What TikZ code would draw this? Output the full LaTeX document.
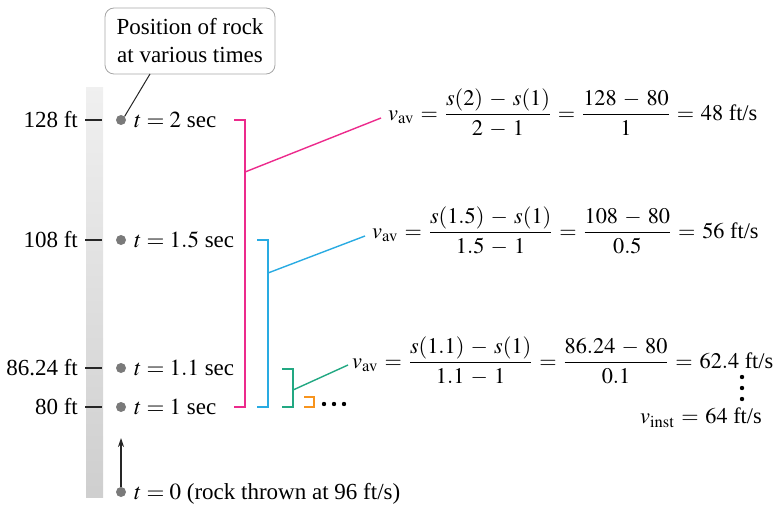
\documentclass[tikz,border=0pt]{standalone}
\usepackage{mathptmx}
\usepackage{fontspec}
\setmainfont{Liberation Serif}
\usetikzlibrary{arrows.meta}
\definecolor{cmag}{HTML}{EC2A8C}
\definecolor{cblue}{HTML}{29ABE2}
\definecolor{cgreen}{HTML}{22A882}
\definecolor{corange}{HTML}{F7941D}
\definecolor{cdot}{HTML}{7A7A7A}
\begin{document}
\begin{tikzpicture}[x=1pt,y=-1pt,
  every node/.style={font=\fontsize{23}{27}\selectfont, inner sep=0pt},
  lbl/.style={anchor=east},
  tlbl/.style={anchor=west},
  tick/.style={line width=1.2pt, black!85},
  rockdot/.style={circle, fill=cdot, minimum size=10pt, inner sep=0pt},
  brk/.style={line width=1.4pt},
  eqn/.style={anchor=west, font=\fontsize{22.3}{26}\selectfont, execute at begin node={\medmuskip=5mu plus 1mu\thickmuskip=5.5mu plus 1mu}}]
\useasboundingbox (0,0) rectangle (781,505);
% bar
\shade[top color=gray!12, bottom color=gray!38] (86,88) rectangle (103,497);
% callout
\node[draw=gray!70, line width=0.8pt, rounded corners=9pt, minimum width=170pt, minimum height=66pt, align=center, font=\fontsize{23}{28}\selectfont] (call) at (190,41) {Position of rock\\at various times};
% dots
\node[rockdot] (d2) at (121,120) {};
\node[rockdot] (d15) at (121,240) {};
\node[rockdot] (d11) at (121,368) {};
\node[rockdot] (d1) at (121,407) {};
\node[rockdot] (d0) at (121,492) {};
% height labels and ticks
\node[lbl] (h128) at (78,120) {128 ft};
\node[lbl] (h108) at (78,240) {108 ft};
\node[lbl] (h86) at (78,368) {86.24 ft};
\node[lbl] (h80) at (78,407) {80 ft};
\foreach \yy in {120,240,368,407} \draw[tick] (85,\yy) -- (102,\yy);
% time labels
\node[tlbl] (t2) at (134,120) {$t = 2$ sec};
\node[tlbl] (t15) at (134,240) {$t = 1.5$ sec};
\node[tlbl] (t11) at (134,368) {$t = 1.1$ sec};
\node[tlbl] (t1) at (134,407) {$t = 1$ sec};
\node[tlbl] (t0) at (134,494) {$t = 0$ (rock thrown at 96 ft/s)};
% pointer from callout
\coordinate (cp) at (150,74);
\draw[line width=1pt, black!85] (cp) -- (d2.north east);
% arrow
\draw[line width=1.1pt, black!85, -{Stealth[length=9pt,width=6pt]}] (d0) -- (121,438);
% equations
\node[eqn] (e1) at (388,113) {$\displaystyle v_{\mathrm{av}} = \frac{s(2) - s(1)}{2 - 1} = \frac{128 - 80}{1} = 48\mbox{ ft/s}$};
\node[eqn] (e2) at (372,231) {$\displaystyle v_{\mathrm{av}} = \frac{s(1.5) - s(1)}{1.5 - 1} = \frac{108 - 80}{0.5} = 56\mbox{ ft/s}$};
\node[eqn] (e3) at (352,361) {$\displaystyle v_{\mathrm{av}} = \frac{s(1.1) - s(1)}{1.1 - 1} = \frac{86.24 - 80}{0.1} = 62.4\mbox{ ft/s}$};
\node[eqn, anchor=east] (e4) at (762,418) {$v_{\mathrm{inst}} = 64\mbox{ ft/s}$};
\foreach \yy in {377,388,399} \fill (742,\yy) circle (2.2pt);
% brackets
\draw[brk, cmag] (234,120) -- (245,120) -- (245,407) -- (234,407);
\coordinate (mj) at (245,172);
\draw[brk, cmag] (mj) -- ([xshift=-7pt,yshift=-5pt]e1.west);
\draw[brk, cblue] (257,240) -- (268,240) -- (268,407) -- (257,407);
\coordinate (bj) at (268,273);
\draw[brk, cblue] (bj) -- ([xshift=-7pt,yshift=-5pt]e2.west);
\draw[brk, cgreen] (282,369) -- (293,369) -- (293,407) -- (282,407);
\coordinate (gj) at (293,390);
\draw[brk, cgreen] (gj) -- ([xshift=-4pt,yshift=-4pt]e3.west);
\draw[brk, corange] (304,397) -- (314,397) -- (314,407) -- (304,407);
\foreach \xx in {324,334,344} \fill (\xx,404) circle (2.2pt);
\end{tikzpicture}
\end{document}
